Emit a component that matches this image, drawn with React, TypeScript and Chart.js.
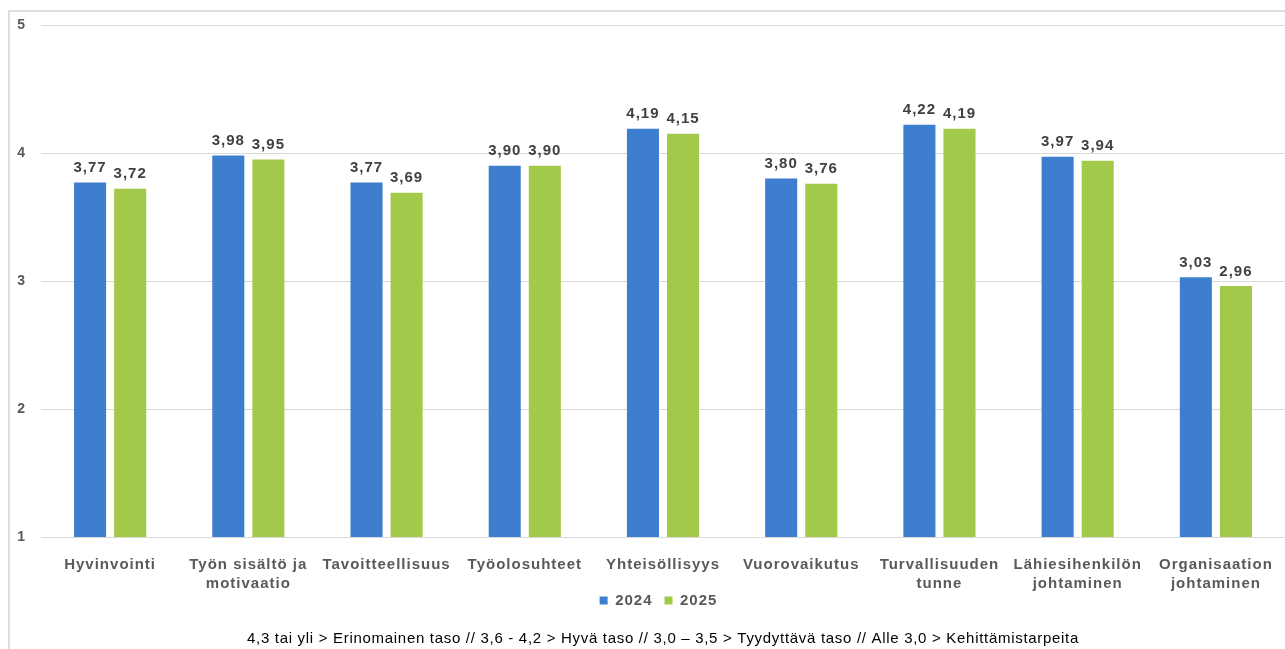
import React, { useEffect, useRef } from "react";
import { Chart, registerables } from "chart.js";

Chart.register(...registerables);

// Survey dimensions (x-axis categories)
const categories: (string | string[])[] = [
  "Hyvinvointi",
  ["Työn sisältö ja", "motivaatio"],
  "Tavoitteellisuus",
  "Työolosuhteet",
  "Yhteisöllisyys",
  "Vuorovaikutus",
  ["Turvallisuuden", "tunne"],
  ["Lähiesihenkilön", "johtaminen"],
  ["Organisaation", "johtaminen"],
];

// Average scores per year
const values2024 = [3.77, 3.98, 3.77, 3.9, 4.19, 3.8, 4.22, 3.97, 3.03];
const values2025 = [3.72, 3.95, 3.69, 3.9, 4.15, 3.76, 4.19, 3.94, 2.96];

const seriesLabels = ["2024", "2025"];
const yTicks = [1, 2, 3, 4, 5];

const footerText =
  "4,3 tai yli > Erinomainen taso // 3,6 - 4,2 > Hyvä taso // 3,0 – 3,5 > Tyydyttävä taso // Alle 3,0 > Kehittämistarpeita";

const FONT = "'Liberation Sans', Arial, sans-serif";
const TEXT = "#595959";

const fmt = (v: number) => v.toFixed(2).replace(".", ",");

// Wider tracking for all canvas text
const spacingPlugin = {
  id: "spacing",
  beforeUpdate(chart: any) {
    chart.ctx.letterSpacing = "1px";
  },
  beforeDraw(chart: any) {
    chart.ctx.letterSpacing = "1px";
  },
  afterLayout(chart: any) {
    // tuck the legend row up under the axis labels, slightly right of centre
    const lg = chart.legend;
    if (lg) {
      lg.left += 16;
      lg.right += 16;
      lg.top -= 12;
      lg.bottom -= 12;
    }
  },
};

// Outer frame of the chart panel
const framePlugin = {
  id: "frame",
  beforeDraw(chart: any) {
    const ctx = chart.ctx;
    ctx.save();
    ctx.fillStyle = "#dedede";
    ctx.fillRect(8, 10, chart.width - 8, 2);
    ctx.fillRect(8, 10, 2, chart.height - 10);
    ctx.restore();
  },
};

// Value labels above each bar
const valueLabelPlugin = {
  id: "valueLabels",
  afterDatasetsDraw(chart: any) {
    const ctx = chart.ctx;
    ctx.save();
    ctx.letterSpacing = "1px";
    ctx.font = `bold 15px ${FONT}`;
    ctx.fillStyle = "#404040";
    ctx.textAlign = "center";
    ctx.textBaseline = "bottom";
    chart.data.datasets.forEach((ds: any, di: number) => {
      const meta = chart.getDatasetMeta(di);
      meta.data.forEach((bar: any, i: number) => {
        ctx.fillText(fmt(ds.data[i]), bar.x, bar.y - 7);
      });
    });
    ctx.restore();
  },
};

// Scale legend text below the chart
const footerPlugin = {
  id: "footer",
  afterDraw(chart: any) {
    const ctx = chart.ctx;
    const area = chart.chartArea;
    ctx.save();
    ctx.letterSpacing = "0.7px";
    ctx.font = `15px ${FONT}`;
    ctx.fillStyle = "#000000";
    ctx.textAlign = "center";
    ctx.textBaseline = "middle";
    ctx.fillText(footerText, (area.left + area.right) / 2, 639);
    ctx.restore();
  },
};

export default function App() {
  const ref = useRef<HTMLCanvasElement | null>(null);

  useEffect(() => {
    if (!ref.current) return;
    const chart = new Chart(ref.current, {
      type: "bar",
      data: {
        labels: categories,
        datasets: [
          {
            label: seriesLabels[0],
            data: values2024,
            backgroundColor: "#3d7fce",
            categoryPercentage: 0.58,
            barPercentage: 0.8,
          },
          {
            label: seriesLabels[1],
            data: values2025,
            backgroundColor: "#a3c94a",
            categoryPercentage: 0.58,
            barPercentage: 0.8,
          },
        ],
      },
      options: {
        responsive: false,
        animation: false,
        layout: { padding: { top: 25, left: 0, right: 0, bottom: 19 } },
        plugins: {
          legend: {
            position: "bottom",
            labels: {
              boxWidth: 8,
              boxHeight: 8,
              padding: 12,
              color: TEXT,
              font: { family: FONT, size: 15, weight: "bold" },
            },
          },
          tooltip: { enabled: false },
        },
        scales: {
          x: {
            grid: { display: false },
            border: { display: false },
            ticks: {
              color: TEXT,
              font: { family: FONT, size: 15, weight: "bold", lineHeight: 1.3 },
              padding: 10,
              maxRotation: 0,
              autoSkip: false,
            },
            afterFit(scale: any) {
              scale.height = 56;
            },
          },
          y: {
            min: 1,
            max: 5,
            afterBuildTicks(scale: any) {
              scale.ticks = yTicks.map((v) => ({ value: v }));
            },
            grid: { color: "#d9d9d9", lineWidth: 1, drawTicks: false },
            border: { display: false },
            ticks: {
              color: TEXT,
              font: { family: FONT, size: 14, weight: "bold" },
              padding: 15,
            },
            afterFit(scale: any) {
              scale.width = 41;
            },
          },
        },
      },
      plugins: [spacingPlugin, framePlugin, valueLabelPlugin, footerPlugin],
    } as any);
    return () => chart.destroy();
  }, []);

  return (
    <canvas
      ref={ref}
      width={1285}
      height={649}
      style={{ position: "fixed", left: 0, top: 0, display: "block" }}
    />
  );
}
